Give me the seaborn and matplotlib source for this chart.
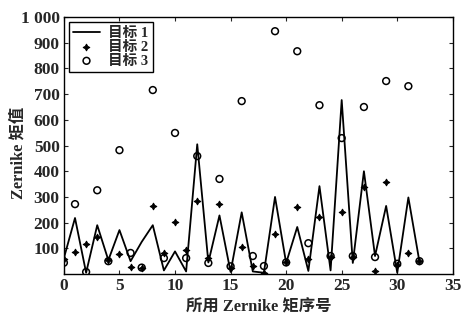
import numpy as np
import pandas as pd
import seaborn as sns
import matplotlib.pyplot as plt
from matplotlib.ticker import FuncFormatter

# ---DATA-----------------------------------------------------------------------
order = list(range(33))
target1 = [62, 218, 5, 190, 54, 171, 50, 125, 190, 14, 88, 10, 505, 45, 228,
           8, 240, 10, 5, 300, 43, 183, 12, 342, 14, 677, 43, 400, 70, 265,
           5, 298, 47]
target2 = [58, 84, 117, 144, 54, 78, 27, 25, 265, 80, 202, 93, 284, 62, 274,
           25, 105, 30, 4, 155, 45, 261, 58, 222, 66, 241, 66, 339, 12, 358,
           35, 82, 50]
target3 = [44, 272, 8, 326, 50, 482, 82, 25, 716, 62, 549, 62, 459, 43, 370,
           30, 673, 70, 31, 945, 45, 867, 120, 657, 70, 529, 70, 650, 66, 751,
           40, 731, 50]
labels = ["目标 1", "目标 2", "目标 3"]

df = pd.DataFrame({"order": order, "t1": target1, "t2": target2, "t3": target3})

# ---STYLE----------------------------------------------------------------------
sns.set_style("ticks")
plt.rcParams["font.family"] = ["Liberation Serif", "Noto Sans CJK SC"]
plt.rcParams["font.weight"] = "bold"
plt.rcParams["xtick.direction"] = "in"
plt.rcParams["ytick.direction"] = "in"

fig = plt.figure(figsize=(4.63, 3.22), dpi=100)
ax = fig.add_axes([0.138, 0.149, 0.840, 0.798])

sns.lineplot(x="order", y="t1", data=df, ax=ax, color="black", lw=1.3,
             label=labels[0])
sns.scatterplot(x="order", y="t2", data=df, ax=ax, marker=(4, 1, 0),
                color="black", s=22, edgecolor="black", linewidth=0.8,
                label=labels[1], zorder=3)
sns.scatterplot(x="order", y="t3", data=df, ax=ax, marker="o",
                facecolor="none", edgecolor="black", s=24, linewidth=1.1,
                label=labels[2], zorder=3)

ax.set_xlim(0, 35)
ax.set_ylim(0, 1000)
ax.set_xticks(range(0, 36, 5))
ax.set_yticks(range(100, 1001, 100))
ax.yaxis.set_major_formatter(FuncFormatter(
    lambda v, p: "1 000" if v == 1000 else f"{int(v)}"))
ax.tick_params(labelsize=12.5, length=3, width=0.8, top=True, right=True,
               pad=3)
for lab in ax.get_xticklabels() + ax.get_yticklabels():
    lab.set_fontweight("bold")
for sp in ax.spines.values():
    sp.set_color("black")
    sp.set_linewidth(1.0)

ax.set_xlabel("所用 Zernike 矩序号", fontsize=11.8, fontweight="bold",
              labelpad=4)
ax.set_ylabel("Zernike 矩值", fontsize=11.8, fontweight="bold")
ax.yaxis.set_label_coords(-0.097, 0.47)

leg = ax.legend(loc="upper left", fontsize=10.5, frameon=True, fancybox=False,
                edgecolor="black", borderpad=0.3, labelspacing=0.05,
                handlelength=1.8, handletextpad=0.6, borderaxespad=0.35)
leg.get_frame().set_linewidth(1.0)
leg.get_frame().set_alpha(1)

plt.savefig("out.png", dpi=100)
